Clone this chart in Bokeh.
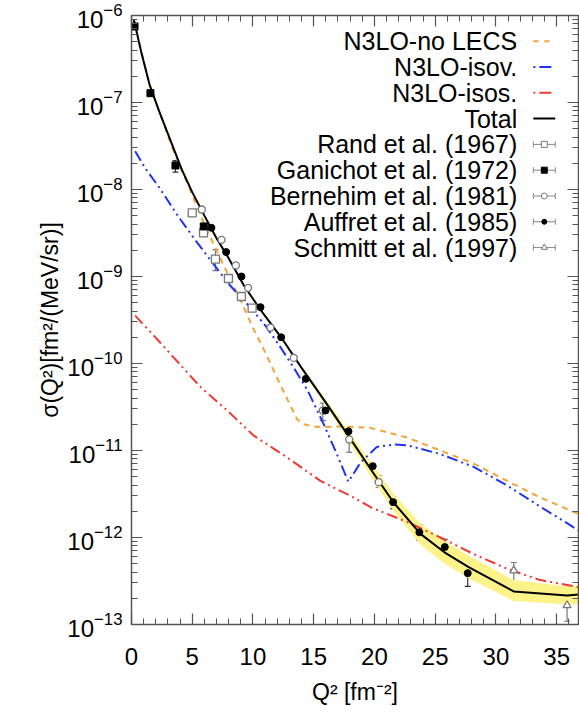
import math
from bokeh.plotting import figure
from bokeh.models import (LinearAxis, LogAxis, FixedTicker, Range1d, ColumnDataSource,
                          Whisker, TeeHead, CustomJSTickFormatter)
from bokeh.core.properties import value
from bokeh.embed import file_html
from bokeh.resources import INLINE

FONT = "Liberation Sans"

# ---------------- data ----------------
# Theory curves, x = Q^2 [fm^-2], y = sigma [fm^2/(MeV/sr)]
total_x = [0.2, 0.8, 1.5, 2.25, 3.0, 4.17, 5.0, 6.0, 7.0, 8.0, 9.24, 10.5, 12.32, 14.0,
           16.0, 18.0, 19.67, 21.59, 23.79, 25.76, 27.76, 31.47, 35.86, 36.8]
total_y = [8.91e-7, 3.80e-7, 1.58e-7, 8.13e-8, 4.37e-8, 1.66e-8, 9.33e-9, 5.01e-9, 2.75e-9,
           1.62e-9, 7.94e-10, 4.37e-10, 2.00e-10, 8.91e-11, 3.55e-11, 1.38e-11, 6.17e-12,
           2.51e-12, 1.10e-12, 6.76e-13, 4.57e-13, 2.40e-13, 2.15e-13, 2.21e-13]

band_x = [13.5, 16.0, 18.0, 19.67, 21.59, 23.79, 25.76, 27.76, 31.47, 35.86, 36.8]
band_hi = [1.15e-10, 3.89e-11, 1.58e-11, 7.41e-12, 3.16e-12, 1.45e-12, 9.12e-13, 6.17e-13,
           3.24e-13, 2.75e-13, 2.82e-13]
band_lo = [1.10e-10, 3.24e-11, 1.20e-11, 5.13e-12, 2.00e-12, 8.32e-13, 5.01e-13, 3.39e-13,
           1.86e-13, 1.70e-13, 1.74e-13]

nolecs_x = [0.2, 1.42, 2.25, 3.35, 4.72, 6.09, 7.0, 8.0, 9.0, 10.0, 11.0, 12.0, 13.0, 13.63,
            14.2, 15.0, 16.0, 17.2, 19.67, 22.69, 25.43, 28.17, 30.92, 33.66, 36.8]
nolecs_y = [8.71e-7, 1.74e-7, 8.13e-8, 3.02e-8, 1.07e-8, 3.72e-9, 2.00e-9, 1.02e-9, 5.25e-10,
            2.57e-10, 1.35e-10, 6.76e-11, 3.47e-11, 2.29e-11, 2.00e-11, 1.88e-11, 1.86e-11,
            1.89e-11, 1.82e-11, 1.41e-11, 1.00e-11, 7.08e-12, 4.47e-12, 2.88e-12, 1.86e-12]

isov_x = [0.3, 1.15, 2.25, 3.9, 5.3, 6.6, 8.1, 9.8, 11.0, 12.3, 13.5, 14.5, 15.8, 16.9, 17.85,
          18.85, 20.2, 21.6, 22.7, 25.4, 28.2, 30.9, 33.7, 35.9, 36.8]
isov_y = [2.75e-8, 1.74e-8, 1.07e-8, 4.79e-9, 2.57e-9, 1.48e-9, 7.94e-10, 4.37e-10, 2.75e-10,
          1.51e-10, 8.32e-11, 4.90e-11, 2.04e-11, 9.12e-12, 4.37e-12, 7.24e-12, 1.10e-11,
          1.17e-11, 1.15e-11, 9.12e-12, 6.46e-12, 3.98e-12, 2.24e-12, 1.45e-12, 1.20e-12]

isos_x = [0.3, 1.84, 3.48, 5.68, 7.88, 10.07, 12.81, 15.56, 18.3, 19.8, 22.69, 25.43, 28.17,
          30.92, 33.66, 36.8]
isos_y = [3.55e-10, 2.09e-10, 1.17e-10, 5.37e-11, 2.88e-11, 1.48e-11, 8.32e-12, 4.47e-12,
          2.88e-12, 2.19e-12, 1.51e-12, 1.00e-12, 6.46e-13, 4.37e-13, 3.24e-13, 2.69e-13]

# Experimental data (nan = error bar hidden by the marker)
nan = float("nan")
rand_x = [5.0, 5.93, 6.91, 7.98, 9.05, 9.93]
rand_y = [5.40e-9, 3.18e-9, 1.58e-9, 9.48e-10, 5.89e-10, 4.33e-10]
rand_lo = [nan, nan, 1.17e-9, nan, nan, nan]
rand_hi = [nan, nan, 2.04e-9, nan, nan, nan]

gan_x = [0.25, 1.56, 3.62, 5.95]
gan_y = [7.48e-7, 1.28e-7, 1.89e-8, 3.76e-9]
gan_lo = [nan, nan, 1.58e-8, nan]
gan_hi = [nan, nan, 2.15e-8, nan]

bern_x = [5.79, 7.41, 8.59, 9.6, 11.44, 13.36, 15.75, 17.92, 20.35]
bern_y = [5.89e-9, 2.64e-9, 1.34e-9, 7.41e-10, 2.59e-10, 1.16e-10, 2.88e-11, 1.34e-11, 4.33e-12]
bern_lo = [nan, nan, nan, nan, nan, nan, 2.21e-11, 9.55e-12, 3.78e-12]
bern_hi = [nan, nan, nan, nan, nan, nan, 3.50e-11, 1.62e-11, 5.16e-12]

auf_x = [6.58, 7.79, 9.05, 10.62, 12.32, 14.35, 15.97, 17.86, 19.86, 21.54, 23.7, 25.79, 27.68]
auf_y = [3.63e-9, 1.91e-9, 1.00e-9, 4.44e-10, 2.00e-10, 6.67e-11, 2.88e-11, 1.66e-11,
         6.61e-12, 2.55e-12, 1.15e-12, 7.76e-13, 3.89e-13]
auf_lo = [nan, nan, nan, nan, nan, nan, nan, nan, nan, 2.14e-12, 9.33e-13, 5.75e-13, 2.75e-13]
auf_hi = [nan, nan, nan, nan, nan, nan, nan, nan, nan, 2.95e-12, 1.41e-12, 9.55e-13, 5.01e-13]

sch_x = [31.47, 35.86]
sch_y = [4.17e-13, 1.66e-13]
sch_lo = [3.04e-13, 1.09e-13]
sch_hi = [5.16e-13, 2.06e-13]

x_major = [0, 5, 10, 15, 20, 25, 30, 35]
y_exps = [-13, -12, -11, -10, -9, -8, -7, -6]

legend_labels = ["N3LO-no LECS", "N3LO-isov.", "N3LO-isos.", "Total",
                 "Rand et al. (1967)", "Ganichot et al. (1972)", "Bernehim et al. (1981)",
                 "Auffret et al. (1985)", "Schmitt et al. (1997)"]

# ---------------- styles ----------------
C_ORANGE = "#f2a33a"
C_BLUE = "#1f33f0"
C_RED = "#ec3b30"
C_BAND = "#fbf38a"
C_AXIS = "#555555"
C_GREY = "#777777"
DASH_OR = "6 5"
DASH_DDD = "11 4 2 4 2 4"

XMIN, XMAX = 0.0, 36.8
LMIN, LMAX = -13, -6

p = figure(width=579, height=713, y_axis_type="log",
           x_range=Range1d(XMIN, XMAX), y_range=Range1d(10.0 ** LMIN, 10.0 ** LMAX),
           output_backend="svg", toolbar_location=None,
           min_border_left=131, min_border_right=1, min_border_top=15, min_border_bottom=89,
           background_fill_color="white", border_fill_color="white",
           outline_line_color=C_AXIS)
p.grid.visible = False

x_ticker = FixedTicker(ticks=x_major, minor_ticks=list(range(0, 37)))
y_major = [10.0 ** e for e in y_exps]
y_minor = [k * 10.0 ** e for e in y_exps[:-1] for k in range(2, 10)]
y_ticker = FixedTicker(ticks=y_major, minor_ticks=y_minor)


def style_axis(ax, show_labels):
    ax.axis_line_color = C_AXIS
    ax.axis_line_width = 1.5
    ax.major_tick_line_color = C_AXIS
    ax.minor_tick_line_color = C_AXIS
    ax.major_tick_line_width = 1.2
    ax.minor_tick_line_width = 1.0
    ax.major_tick_in = 11
    ax.major_tick_out = 0
    ax.minor_tick_in = 6
    ax.minor_tick_out = 0
    if show_labels:
        ax.major_label_text_font = FONT
        ax.major_label_text_font_size = "24px"
        ax.major_label_text_color = "black"
        ax.axis_label_text_font = FONT
        ax.axis_label_text_font_size = "23px"
        ax.axis_label_text_font_style = "normal"
        ax.axis_label_text_color = "black"
    else:
        ax.formatter = CustomJSTickFormatter(code="return ''")
        ax.major_label_standoff = 0
        ax.axis_label_standoff = 0


p.xaxis.ticker = x_ticker
p.yaxis.ticker = y_ticker
style_axis(p.xaxis[0], True)
style_axis(p.yaxis[0], True)
p.xaxis.axis_label = "Q² [fm⁻²]"
p.yaxis.axis_label = "σ(Q²)[fm²/(MeV/sr)]"
p.xaxis.major_label_standoff = 23
p.xaxis.axis_label_standoff = 11
p.yaxis.major_label_standoff = 9
p.yaxis.axis_label_standoff = 1

top = LinearAxis(ticker=x_ticker)
style_axis(top, False)
p.add_layout(top, "above")
right = LogAxis(ticker=y_ticker)
style_axis(right, False)
p.add_layout(right, "right")

# ---------------- theory ----------------
p.varea(x=band_x, y1=band_lo, y2=band_hi, fill_color=C_BAND, fill_alpha=1.0)
p.line(nolecs_x, nolecs_y, line_color=C_ORANGE, line_width=2, line_dash=DASH_OR)
p.line(isov_x, isov_y, line_color=C_BLUE, line_width=2, line_dash=DASH_DDD)
p.line(isos_x, isos_y, line_color=C_RED, line_width=2, line_dash=DASH_DDD)
p.line(total_x, total_y, line_color="black", line_width=2)


# ---------------- data points ----------------
def errbars(xs, lo, hi, color):
    keep = [i for i in range(len(xs)) if not math.isnan(lo[i])]
    src = ColumnDataSource(dict(x=[xs[i] for i in keep], lo=[lo[i] for i in keep],
                                hi=[hi[i] for i in keep]))
    w = Whisker(source=src, base="x", lower="lo", upper="hi", line_color=color, line_width=1.2,
                upper_head=TeeHead(size=6, line_color=color, line_width=1.2),
                lower_head=TeeHead(size=6, line_color=color, line_width=1.2))
    p.add_layout(w)


errbars(rand_x, rand_lo, rand_hi, C_GREY)
errbars(gan_x, gan_lo, gan_hi, "#333333")
errbars(bern_x, bern_lo, bern_hi, C_GREY)
errbars(auf_x, auf_lo, auf_hi, "#333333")
errbars(sch_x, sch_lo, sch_hi, C_GREY)

p.scatter(rand_x, rand_y, marker="square", size=8, fill_color="white", line_color=C_GREY,
          line_width=1.3)
p.scatter(gan_x, gan_y, marker="square", size=7, fill_color="black", line_color="black")
p.scatter(bern_x, bern_y, marker="circle", size=7, fill_color="white", line_color=C_GREY,
          line_width=1.3)
p.scatter(auf_x, auf_y, marker="circle", size=7, fill_color="black", line_color="black")
p.scatter(sch_x, sch_y, marker="triangle", size=8, fill_color="white", line_color=C_GREY,
          line_width=1.3)


# ---------------- legend (placed by fractions of the frame) ----------------
def fx(f):
    return XMIN + f * (XMAX - XMIN)


def fy(f_top):
    return 10.0 ** (LMAX - f_top * (LMAX - LMIN))


row_y = [fy(0.0422 + 0.04236 * i) for i in range(len(legend_labels))]
p.text(x=[fx(0.863)] * len(legend_labels), y=row_y, text=legend_labels,
       text_align="right", text_baseline="middle", text_color="black",
       text_font=value(FONT), text_font_size="25px")

sx0, sx1, sxm = fx(0.899), fx(0.948), fx(0.9235)
p.line([sx0, sx1], [row_y[0]] * 2, line_color=C_ORANGE, line_width=2, line_dash="5 6")
p.line([sx0, sx1], [row_y[1]] * 2, line_color=C_BLUE, line_width=2, line_dash="2 4 12 4")
p.line([sx0, sx1], [row_y[2]] * 2, line_color=C_RED, line_width=2, line_dash="2 4 12 4")
p.line([sx0, sx1], [row_y[3]] * 2, line_color="black", line_width=2)

mrow = row_y[4:]
lsrc = ColumnDataSource(dict(y=mrow, lo=[sx0] * 5, hi=[sx1] * 5))
p.add_layout(Whisker(source=lsrc, base="y", lower="lo", upper="hi", dimension="width",
                     line_color="#888888", line_width=1,
                     upper_head=TeeHead(size=6, line_color="#888888", line_width=1),
                     lower_head=TeeHead(size=6, line_color="#888888", line_width=1)))
p.scatter([sxm], [mrow[0]], marker="square", size=6, fill_color="white", line_color=C_GREY)
p.scatter([sxm], [mrow[1]], marker="square", size=6, fill_color="black", line_color="black")
p.scatter([sxm], [mrow[2]], marker="circle", size=6, fill_color="white", line_color=C_GREY)
p.scatter([sxm], [mrow[3]], marker="circle", size=5, fill_color="black", line_color="black")
p.scatter([sxm], [mrow[4]], marker="triangle", size=6, fill_color="white", line_color=C_GREY)

open("out.html", "w").write(file_html(p, INLINE))
